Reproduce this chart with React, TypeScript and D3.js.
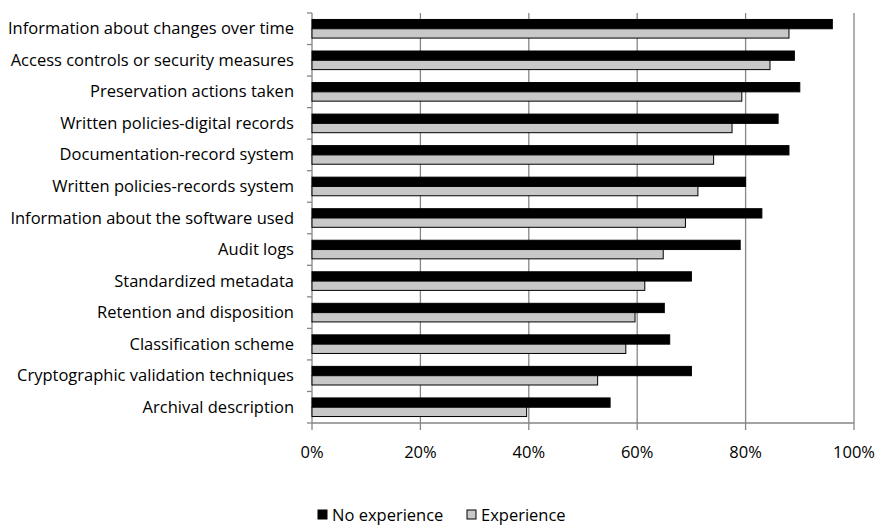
import React from "react";
import * as d3 from "d3";

const categories = [
  "Information about changes over time",
  "Access controls or security measures",
  "Preservation actions taken",
  "Written policies-digital records",
  "Documentation-record system",
  "Written policies-records system",
  "Information about the software used",
  "Audit logs",
  "Standardized metadata",
  "Retention and disposition",
  "Classification scheme",
  "Cryptographic validation techniques",
  "Archival description",
];
const noExperience = [96, 89, 90, 86, 88, 80, 83, 79, 70, 65, 66, 70, 55];
const experience = [88, 84.5, 79.3, 77.5, 74.1, 71.2, 68.9, 64.8, 61.4, 59.6, 57.9, 52.7, 39.6];
const xTicks = [0, 20, 40, 60, 80, 100];
const seriesNames = ["No experience", "Experience"];
const seriesColors = ["#000000", "#c8c8c8"];

const W = 878;
const H = 526;
const left = 312;
const right = 854;
const top = 13;
const bottom = 423;
const FONT = "'Open Sans', sans-serif";
const FS = 16.5;

export default function App() {
  const x = d3.scaleLinear().domain([0, 100]).range([left, right]);
  const y = d3.scaleBand<string>().domain(categories).range([top, bottom]).paddingInner(0.41).paddingOuter(0.205);
  const sub = d3.scaleBand<string>().domain(seriesNames).range([0, y.bandwidth()]);
  const step = y.step();
  const boundaries = d3.range(categories.length + 1).map((i) => top + i * step);
  const data = [noExperience, experience];

  return (
    <svg width={W} height={H} style={{ position: "absolute", left: 0, top: 0, background: "#fff" }}>
      {xTicks.slice(1).map((t) => (
        <line key={"g" + t} x1={x(t)} x2={x(t)} y1={top} y2={bottom + 7} stroke="#868686" strokeWidth={1.3} />
      ))}
      <line x1={left} x2={left} y1={top} y2={bottom + 7} stroke="#868686" strokeWidth={1.3} />
      {boundaries.map((b, i) => (
        <line key={"t" + i} x1={left - 5} x2={left} y1={b} y2={b} stroke="#868686" strokeWidth={1.3} />
      ))}
      {categories.map((c, i) =>
        seriesNames.map((s, j) => (
          <rect
            key={c + s}
            x={x(0)}
            y={(y(c) as number) + (sub(s) as number)}
            width={x(data[j][i]) - x(0)}
            height={sub.bandwidth()}
            fill={seriesColors[j]}
            stroke="#000"
            strokeWidth={1}
          />
        ))
      )}
      <line x1={left} x2={right} y1={bottom} y2={bottom} stroke="#868686" strokeWidth={1.3} />
      {xTicks.map((t) => (
        <text key={"l" + t} x={x(t)} y={451} textAnchor="middle" dominantBaseline="central" fontFamily={FONT} fontSize={FS} fill="#000">
          {t + "%"}
        </text>
      ))}
      {categories.map((c) => (
        <text
          key={"c" + c}
          x={294}
          y={(y(c) as number) + y.bandwidth() / 2 - 1}
          textAnchor="end"
          dominantBaseline="central"
          fontFamily={FONT}
          fontSize={FS}
          fill="#000"
        >
          {c}
        </text>
      ))}
      <rect x={318} y={510} width={9} height={9} fill={seriesColors[0]} stroke="#000" />
      <text x={332} y={514} dominantBaseline="central" fontFamily={FONT} fontSize={FS}>
        {seriesNames[0]}
      </text>
      <rect x={467} y={510} width={9} height={9} fill={seriesColors[1]} stroke="#000" />
      <text x={481} y={514} dominantBaseline="central" fontFamily={FONT} fontSize={FS}>
        {seriesNames[1]}
      </text>
    </svg>
  );
}
